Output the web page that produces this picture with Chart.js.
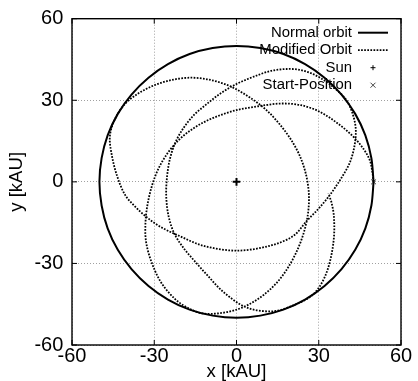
<!DOCTYPE html>
<html><head><meta charset="utf-8">
<script src="https://cdn.jsdelivr.net/npm/chart.js@4/dist/chart.umd.min.js"></script>
<style>html,body{margin:0;padding:0;background:#fff;}#wrap{width:418px;height:381px;}</style>
</head><body><div id="wrap"><canvas id="c" width="418" height="381"></canvas></div>
<script>
// ---- data ----
const tickValues = [-60, -30, 0, 30, 60];
const xTitle = 'x [kAU]';
const yTitle = 'y [kAU]';
const seriesLabels = ['Normal orbit', 'Modified Orbit', 'Sun', 'Start-Position'];

// circle of radius 50 kAU, every 10 degrees
const normalOrbit = [
  [50,0],[49.2,8.7],[47.0,17.1],[43.3,25.0],[38.3,32.1],[32.1,38.3],[25.0,43.3],[17.1,47.0],[8.7,49.2],
  [0,50],[-8.7,49.2],[-17.1,47.0],[-25.0,43.3],[-32.1,38.3],[-38.3,32.1],[-43.3,25.0],[-47.0,17.1],[-49.2,8.7],
  [-50,0],[-49.2,-8.7],[-47.0,-17.1],[-43.3,-25.0],[-38.3,-32.1],[-32.1,-38.3],[-25.0,-43.3],[-17.1,-47.0],[-8.7,-49.2],
  [0,-50],[8.7,-49.2],[17.1,-47.0],[25.0,-43.3],[32.1,-38.3],[38.3,-32.1],[43.3,-25.0],[47.0,-17.1],[49.2,-8.7],[50,0]
];

// traced rosette trajectory, start at (50,0)
const modifiedOrbit = [
  [50,0],[49.5,4],[48.6,8],[46.2,12.3],[42.6,16.6],[37.7,20.9],[30.5,25.7],[23.5,28.2],[16,28.8],[8,27.8],
  [0,26.4],[-6.5,24.3],[-12.2,21.8],[-17.8,18.2],[-21.9,14.5],[-25.3,10.3],[-28.4,5],[-30.7,-1],[-32.4,-8],
  [-33.2,-15],[-33,-22],[-31,-29.5],[-27.5,-37],[-22.3,-43.2],[-17.3,-46.6],[-12.3,-48.4],
  [-6,-48.3],[0,-47],[5,-44.8],[10,-41.5],[14.5,-37.3],[18.5,-32],[22,-25.5],[24.6,-18.5],[26.1,-11.5],
  [26.4,-4.5],[25.4,2.5],[23.2,9.3],[20.2,15],[16.3,20.5],[11,26.3],[4.9,31],[-2.4,35.2],[-10,37.6],
  [-17,38.3],[-24,37.4],[-30.3,35.4],[-36,32.4],[-41,28.3],[-44.6,22.5],
  [-46.2,16.5],[-45.5,9.9],[-43.7,2.6],[-40.7,-4.7],[-36.5,-9.6],[-31.5,-14],[-27.3,-16.8],[-21.5,-19.6],
  [-12.1,-23.5],[0,-25.3],[12.2,-23.5],[20.7,-19.9],[25.6,-14.4],[30,-9.8],[34.3,-4.5],[38.3,1.5],
  [41.3,7],[43,13],[43.5,19.5],[42.2,25.5],[39.8,30.5],
  [36.5,33.8],[32.5,37],[28,39.6],[23,41.2],[18.3,41.5],[12.5,40.8],[7.4,39.1],[0,36],[-6,32.4],
  [-11,28.5],[-15.8,24.3],[-19.6,19.4],[-22.5,14],[-24.5,7.5],[-25.5,0],[-25.6,-6],[-24.8,-12.5],
  [-22.8,-18.8],[-19.4,-24.2],[-15.4,-29],[-10.5,-34.5],[-4.8,-40.5],[3.7,-46.2],[13.4,-47.6],[21,-45.3],[27,-42.2],
  [30.3,-38.5],[32.8,-33.5],[34.6,-27],[35.6,-19.5],[35.5,-12.5],[34.7,-7.8],[33.5,-4.3]
];

const sunPos = [[0,0]];
const startPos = [[50,0]];

// ---- chart ----
const FONT = "'Liberation Sans', Arial, sans-serif";
const toXY = arr => arr.map(([x, y]) => ({x, y}));

const framePlugin = {
  id: 'frame',
  afterDatasetsDraw(chart) {
    const {ctx, chartArea: a, scales} = chart;
    ctx.save();
    ctx.strokeStyle = '#000';
    ctx.lineWidth = 1.4;
    ctx.strokeRect(a.left, a.top, a.right - a.left, a.bottom - a.top);
    ctx.lineWidth = 1;
    const tl = 5;
    ctx.beginPath();
    tickValues.forEach(v => {
      const px = scales.x.getPixelForValue(v);
      ctx.moveTo(px, a.bottom); ctx.lineTo(px, a.bottom - tl);
      ctx.moveTo(px, a.top); ctx.lineTo(px, a.top + tl);
      const py = scales.y.getPixelForValue(v);
      ctx.moveTo(a.left, py); ctx.lineTo(a.left + tl, py);
      ctx.moveTo(a.right, py); ctx.lineTo(a.right - tl, py);
    });
    ctx.stroke();
    ctx.restore();
  }
};

const keyPlugin = {
  id: 'gnuKey',
  afterDraw(chart) {
    const {ctx, chartArea: a} = chart;
    ctx.save();
    ctx.font = '14.9px ' + FONT;
    ctx.fillStyle = '#000';
    ctx.textAlign = 'right';
    ctx.textBaseline = 'middle';
    const tx = a.right - 49, s0 = a.right - 43, s1 = a.right - 13, sm = (s0 + s1) / 2;
    chart.data.datasets.forEach((ds, i) => {
      const y = a.top + 14 + i * 17.5;
      ctx.fillText(ds.label, tx, y);
      ctx.strokeStyle = ds.borderColor;
      if (ds.showLine) {
        ctx.lineWidth = ds.borderWidth;
        ctx.setLineDash(ds.borderDash || []);
        ctx.beginPath(); ctx.moveTo(s0, y); ctx.lineTo(s1, y); ctx.stroke();
        ctx.setLineDash([]);
      } else {
        ctx.lineWidth = 1;
        const r = 2.5;
        ctx.beginPath();
        if (ds.pointStyle === 'cross') {
          ctx.moveTo(sm - r, y); ctx.lineTo(sm + r, y);
          ctx.moveTo(sm, y - r); ctx.lineTo(sm, y + r);
        } else {
          ctx.moveTo(sm - r, y - r); ctx.lineTo(sm + r, y + r);
          ctx.moveTo(sm - r, y + r); ctx.lineTo(sm + r, y - r);
        }
        ctx.stroke();
      }
    });
    ctx.restore();
  }
};

function axis(title, isX) {
  return {
    type: 'linear', min: -60, max: 60,
    afterBuildTicks: s => { s.ticks = tickValues.map(v => ({value: v})); },
    afterFit: s => { if (isX) s.height = 36; else s.width = 72; },
    ticks: {
      color: '#000', font: {family: FONT, size: 20, lineHeight: 1},
      padding: isX ? 1 : 8.7, maxRotation: 0, autoSkip: false
    },
    grid: {color: '#a0a0a0', lineWidth: 1, drawTicks: false},
    border: {display: false, dash: [1, 2]},
    title: {
      display: true, text: title, color: '#000',
      font: {family: FONT, size: 18.6, lineHeight: 1},
      padding: isX ? {top: 0, bottom: 0} : {top: 8, bottom: 0}
    }
  };
}

new Chart(document.getElementById('c'), {
  type: 'scatter',
  data: {
    datasets: [
      {label: seriesLabels[0], data: toXY(normalOrbit), showLine: true, borderColor: '#000',
       borderWidth: 2, pointRadius: 0, tension: 0.33, fill: false},
      {label: seriesLabels[1], data: toXY(modifiedOrbit), showLine: true, borderColor: '#000',
       borderWidth: 1.8, borderDash: [1.7, 1.4], pointRadius: 0, tension: 0.33, fill: false},
      {label: seriesLabels[2], data: toXY(sunPos), showLine: false, pointStyle: 'cross',
       pointRadius: 3.8, borderWidth: 2, borderColor: '#000', backgroundColor: '#000'},
      {label: seriesLabels[3], data: toXY(startPos), showLine: false, pointStyle: 'crossRot',
       pointRadius: 3.5, borderWidth: 1, borderColor: '#444', backgroundColor: '#444'}
    ]
  },
  options: {
    responsive: false, animation: false, devicePixelRatio: 1,
    layout: {padding: {top: 16, right: 17, left: 0, bottom: 0}},
    plugins: {legend: {display: false}, tooltip: {enabled: false}},
    scales: {x: axis(xTitle, true), y: axis(yTitle, false)}
  },
  plugins: [framePlugin, keyPlugin]
});
</script>
</body></html>
